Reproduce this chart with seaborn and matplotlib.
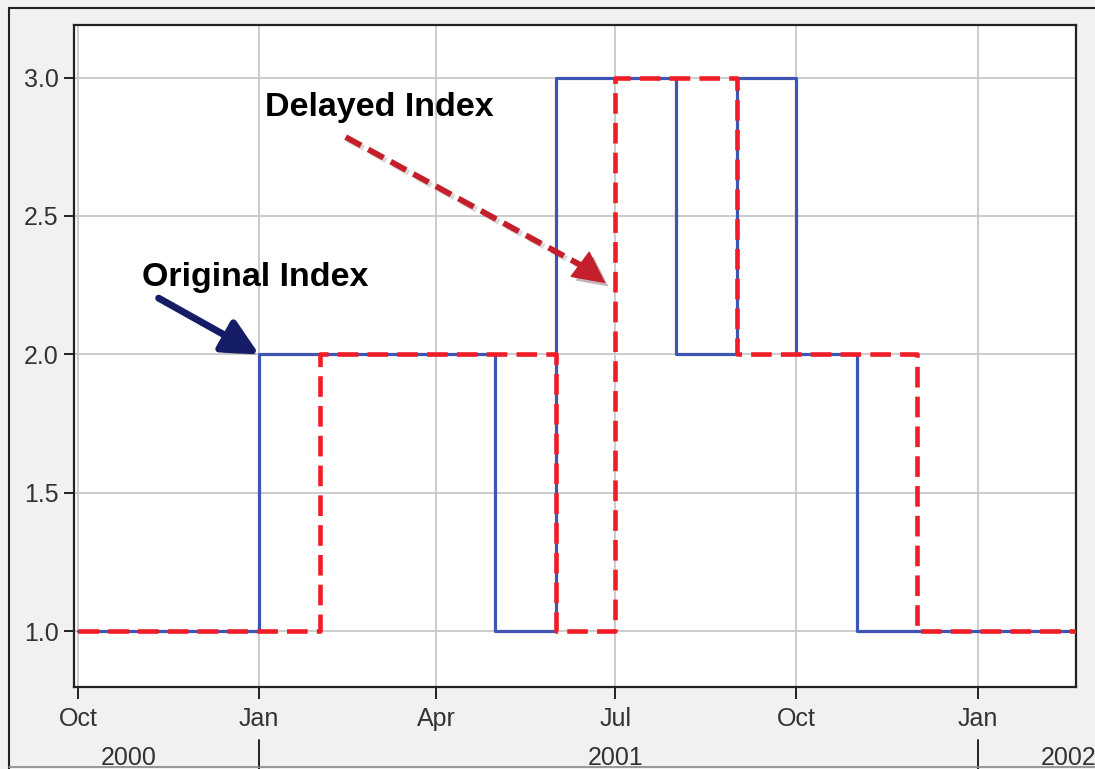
import pandas as pd
import matplotlib
matplotlib.use("Agg")
import matplotlib.pyplot as plt
import matplotlib.dates as mdates
import matplotlib.patheffects as pe
from matplotlib.lines import Line2D
import seaborn as sns

# monthly index values (step at the start of each month)
months = ['2000-10', '2000-11', '2000-12', '2001-01', '2001-02', '2001-03',
          '2001-04', '2001-05', '2001-06', '2001-07', '2001-08', '2001-09',
          '2001-10', '2001-11', '2001-12', '2002-01', '2002-02', '2002-03']
original_index = [1, 1, 1, 2, 2, 2, 2, 1, 3, 3, 2, 3, 2, 1, 1, 1, 1, 1]
delayed_index = [1, 1, 1, 1, 2, 2, 2, 2, 1, 3, 3, 2, 2, 2, 1, 1, 1, 1]
y_ticks = [1.0, 1.5, 2.0, 2.5, 3.0]
years = ['2000', '2001', '2002']
year_label_dates = ['2000-10-27', '2001-07-01', '2002-02-16']
year_breaks = ['2001-01-01', '2002-01-01']

df = pd.DataFrame({
    'date': pd.to_datetime(months),
    'Original Index': original_index,
    'Delayed Index': delayed_index,
})

sns.set_style("white")
plt.rcParams['font.family'] = ['Liberation Sans', 'DejaVu Sans']

BLUE = '#3f55b3'
RED = '#f01c26'
DARK_RED = '#c41f2b'
NAVY = '#141c66'

fig = plt.figure(figsize=(10.95, 7.69), dpi=100, facecolor='#f0f1f0')
ax = fig.add_axes([74 / 1095, 1 - 687 / 769, 1002 / 1095, 662 / 769])
ax.set_facecolor('white')

sns.lineplot(data=df, x='date', y='Original Index', ax=ax, color=BLUE,
             lw=2.3, drawstyle='steps-post', zorder=3)
sns.lineplot(data=df, x='date', y='Delayed Index', ax=ax, color=RED,
             lw=3.3, drawstyle='steps-post', zorder=4)
ax.lines[1].set_dashes((4.5, 2.0))

ax.set_xlim(pd.Timestamp('2000-09-29'), pd.Timestamp('2002-02-20'))
ax.set_ylim(0.798, 3.19)
ax.set_yticks(y_ticks)
ax.yaxis.set_major_formatter(matplotlib.ticker.FormatStrFormatter('%.1f'))
ax.xaxis.set_major_locator(mdates.MonthLocator(bymonth=[1, 4, 7, 10]))
ax.xaxis.set_major_formatter(mdates.DateFormatter('%b'))
ax.set_xlabel('')
ax.set_ylabel('')

ax.grid(True, color='#c8c8c8', lw=1.3, zorder=0)
ax.set_axisbelow(True)
for s in ax.spines.values():
    s.set_color('#222222')
    s.set_linewidth(1.6)

ax.tick_params(axis='y', direction='out', length=7, width=1.4, pad=4,
               labelsize=18, labelcolor='#333333', color='#222222', left=True)
ax.tick_params(axis='x', direction='out', length=8.5, width=1.4, pad=6,
               labelsize=18, labelcolor='#333333', color='#222222', bottom=True)

# second row of the date axis: years with separators
xt = ax.get_xaxis_transform()
for yr, d in zip(years, year_label_dates):
    ax.text(pd.Timestamp(d), -0.118, yr, transform=xt, ha='center',
            va='baseline', fontsize=18, color='#333333', clip_on=False)
for d in year_breaks:
    ax.add_line(Line2D([mdates.date2num(pd.Timestamp(d))] * 2, [-0.080, -0.13],
                       transform=xt, color='#222222', lw=1.4, clip_on=False))

# annotations
shadow = [pe.SimplePatchShadow(offset=(3, -3), alpha=0.3), pe.Normal()]

ax.text(pd.Timestamp('2001-03-03'), 2.893, 'Delayed Index', ha='center',
        va='center', fontsize=24.5, fontweight='bold', color='black', zorder=6)
ax.text(pd.Timestamp('2000-12-30'), 2.279, 'Original Index', ha='center',
        va='center', fontsize=24.5, fontweight='bold', color='black', zorder=6)

# red dashed arrow: dashed shaft plus solid head
ax.plot([pd.Timestamp('2001-02-14'), pd.Timestamp('2001-06-14')], [2.785, 2.32],
        color=DARK_RED, lw=4.2, dashes=(3, 1.4), zorder=6,
        path_effects=[pe.SimpleLineShadow(offset=(2, -2), alpha=0.15), pe.Normal()])
ax.annotate('', xy=(pd.Timestamp('2001-06-26'), 2.257),
            xytext=(pd.Timestamp('2001-06-10'), 2.342),
            arrowprops=dict(arrowstyle='-|>,head_length=0.9,head_width=0.45',
                            mutation_scale=24, color=DARK_RED, lw=1,
                            shrinkA=0, shrinkB=0, path_effects=shadow), zorder=6)

# navy arrow
ax.annotate('', xy=(pd.Timestamp('2001-01-01'), 2.0),
            xytext=(pd.Timestamp('2000-11-11'), 2.203),
            arrowprops=dict(arrowstyle='-|>,head_length=0.9,head_width=0.45',
                            mutation_scale=24, color=NAVY, lw=5,
                            shrinkA=0, shrinkB=0, path_effects=shadow), zorder=6)

# outer panel frame
fig.add_artist(Line2D([9 / 1095, 9 / 1095], [0, 1 - 8 / 769],
                      transform=fig.transFigure, color='#222222', lw=1.5))
fig.add_artist(Line2D([9 / 1095, 1], [1 - 8 / 769, 1 - 8 / 769],
                      transform=fig.transFigure, color='#222222', lw=1.5))
fig.add_artist(Line2D([9 / 1095, 1], [2 / 769, 2 / 769],
                      transform=fig.transFigure, color='#888888', lw=1.2))

fig.savefig('out.png', dpi=100, facecolor=fig.get_facecolor())
